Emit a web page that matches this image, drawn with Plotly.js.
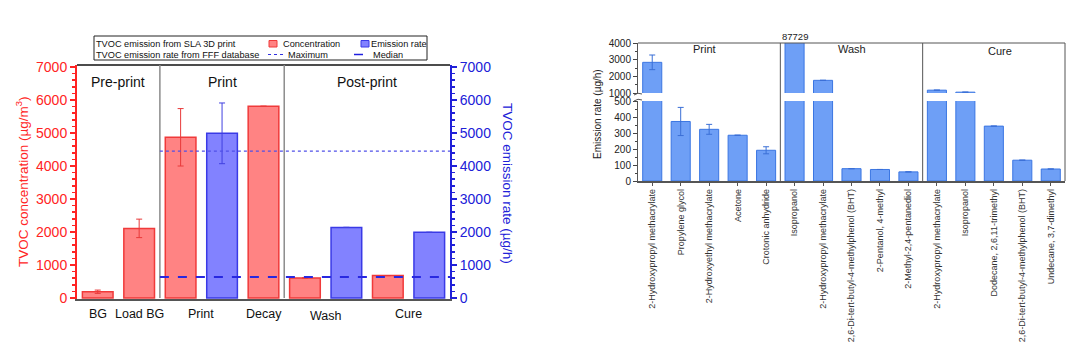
<!DOCTYPE html>
<html><head><meta charset="utf-8">
<script src="https://cdn.plot.ly/plotly-3.0.1.min.js"></script>
<style>html,body{margin:0;padding:0;background:#fff}#chart{width:1090px;height:354px}</style>
</head><body><div id="chart"></div>
<script>
// ---------- Left chart data ----------
const stages = ["BG", "Load BG", "Print", "Decay", "Wash", "Cure"];
const concStages = ["BG", "Load BG", "Print", "Decay", "Wash", "Cure"];
const concentration = [190, 2110, 4870, 5810, 610, 680];
const concentrationErr = [50, 280, 870, 0, 0, 0];
const rateStages = ["Print", "Wash", "Cure"];
const emissionRate = [4990, 2140, 1990];
const emissionRateErr = [920, 0, 0];
const fffMaximum = 4450;
const fffMedian = 640;
const phases = ["Pre-print", "Print", "Post-print"];
const stagePhase = ["Pre-print", "Pre-print", "Print", "Print", "Post-print", "Post-print"];
const leftTicks = [0, 1000, 2000, 3000, 4000, 5000, 6000, 7000];

// ---------- Right chart data ----------
const compounds = [
  "2-Hydroxypropyl methacrylate", "Propylene glycol", "2-Hydroxyethyl methacrylate", "Acetone", "Crotonic anhydride",
  "Isopropanol", "2-Hydroxypropyl methacrylate", "2,6-Di-tert-butyl-4-methylphenol (BHT)", "2-Pentanol, 4-methyl", "2-Methyl-2,4-pentanediol",
  "2-Hydroxypropyl methacrylate", "Isopropanol", "Dodecane, 2,6,11-trimethyl", "2,6-Di-tert-butyl-4-methylphenol (BHT)", "Undecane, 3,7-dimethyl"
];
const compoundPhase = ["Print","Print","Print","Print","Print","Wash","Wash","Wash","Wash","Wash","Cure","Cure","Cure","Cure","Cure"];
const compoundRate = [2840, 372, 323, 286, 192, 87729, 1760, 77, 72, 57, 1170, 1050, 343, 130, 75];
const compoundErr = [440, 88, 31, 0, 22, 0, 0, 0, 0, 0, 0, 0, 0, 0, 0];
const phaseNames = ["Print", "Wash", "Cure"];

// ---------- helpers ----------
const W = 1090, H = 354;
const px = p => p / W;
const py = p => 1 - p / H;
const FONT = "Liberation Sans, Arial, sans-serif";
const RED = "#ff2424", BLUE = "#2020d8";

// slots for left chart
const slots = [];
stages.forEach(s => {
  if (concStages.includes(s)) slots.push(s + " (C)");
  if (rateStages.includes(s)) slots.push(s + " (R)");
});
const slotIdx = name => slots.indexOf(name);

const traces = [
  {
    type: "bar", x: concStages.map(s => s + " (C)"), y: concentration, xaxis: "x", yaxis: "y",
    width: 0.74, marker: {color: "#ff8383", line: {color: "#f03a3a", width: 1.5}},
    error_y: {type: "data", array: concentrationErr, visible: true, color: "#e83a3a", thickness: 1, width: 3},
    name: "Concentration"
  },
  {
    type: "bar", x: rateStages.map(s => s + " (R)"), y: emissionRate, xaxis: "x", yaxis: "y2",
    width: 0.74, marker: {color: "#8282ff", line: {color: "#3a3ae6", width: 1.5}},
    error_y: {type: "data", array: emissionRateErr, visible: true, color: "#4040e0", thickness: 1, width: 3},
    name: "Emission rate"
  }
];

const idx = compounds.map((c, i) => i);
const rightBar = (ya) => ({
  type: "bar", x: idx, y: compoundRate, xaxis: "x2", yaxis: ya, width: 0.67,
  marker: {color: "#6e9ff6", line: {color: "#3b76e2", width: 1}},
  error_y: {type: "data", array: compoundErr, visible: true, color: "#3b6fd6", thickness: 1, width: 3},
  cliponaxis: true
});
traces.push(rightBar("y3"));
traces.push(rightBar("y4"));

const shapes = [];
const annotations = [];
const ann = (o) => annotations.push(Object.assign({showarrow: false, xanchor: "center", yanchor: "middle"}, o));

// left frame top line
shapes.push({type: "line", xref: "paper", yref: "paper", x0: px(77), x1: px(450), y0: py(65), y1: py(65), line: {color: "#111", width: 1.5}});
// phase separators & labels (left)
phases.forEach((ph, k) => {
  const stIdx = stages.map((s, i) => i).filter(i => stagePhase[i] === ph);
  const slotList = [];
  stIdx.forEach(i => {
    const s = stages[i];
    if (concStages.includes(s)) slotList.push(slotIdx(s + " (C)"));
    if (rateStages.includes(s)) slotList.push(slotIdx(s + " (R)"));
  });
  const lo = Math.min(...slotList), hi = Math.max(...slotList);
  ann({xref: "x", yref: "paper", x: (lo + hi) / 2, y: py(82), text: ph, font: {size: 14, color: "#111", family: FONT}});
  if (k < phases.length - 1) {
    shapes.push({type: "line", xref: "x", yref: "paper", x0: hi + 0.5, x1: hi + 0.5, y0: py(298), y1: py(65), line: {color: "#8c8c8c", width: 1.5}});
  }
});
// stage labels below
stages.forEach((s, i) => {
  const l = [];
  if (concStages.includes(s)) l.push(slotIdx(s + " (C)"));
  if (rateStages.includes(s)) l.push(slotIdx(s + " (R)"));
  const c = l.reduce((a, b) => a + b, 0) / l.length;
  ann({xref: "x", yref: "paper", x: c, y: py(s === "Wash" ? 316 : 314), text: s, font: {size: 12.5, color: "#111", family: FONT}});
});
// FFF lines
const printStart = slotIdx("Print (C)") - 0.5;
shapes.push({type: "line", xref: "x", yref: "y2", x0: printStart, x1: slots.length - 0.5, y0: fffMaximum, y1: fffMaximum, line: {color: "#5050e8", width: 1.2, dash: "dot"}});
shapes.push({type: "line", xref: "x", yref: "y2", x0: printStart, x1: slots.length - 0.5, y0: fffMedian, y1: fffMedian, line: {color: "#2828e0", width: 2, dash: "dash"}});

// axis titles (left)
ann({xref: "paper", yref: "paper", x: px(22), y: py(182), text: "TVOC concentration (µg/m<sup>3</sup>)", textangle: -90,
  font: {size: 13.5, color: RED, family: FONT}});
ann({xref: "paper", yref: "paper", x: px(507), y: py(183), text: "TVOC emission rate (µg/h)", textangle: 90,
  font: {size: 13.5, color: BLUE, family: FONT}});

// legend box (left)
shapes.push({type: "rect", xref: "paper", yref: "paper", x0: px(94), x1: px(427), y0: py(60), y1: py(36), line: {color: "#222", width: 1}, fillcolor: "#fff"});
const legTxt = (x, y, t) => ann({xref: "paper", yref: "paper", x: px(x), y: py(y), text: t,
  xanchor: "left", font: {size: 9.2, color: "#111", family: FONT}});
legTxt(94, 43.5, "TVOC emission from SLA 3D print");
legTxt(281, 43.5, "Concentration");
legTxt(369, 43.5, "Emission rate");
legTxt(94, 54.5, "TVOC emission rate from FFF database");
legTxt(286, 54.5, "Maximum");
legTxt(371, 54.5, "Median");
shapes.push({type: "rect", xref: "paper", yref: "paper", x0: px(269), x1: px(277), y0: py(47), y1: py(40.5), fillcolor: "#ff8383", line: {color: "#f03a3a", width: 1}});
shapes.push({type: "rect", xref: "paper", yref: "paper", x0: px(361), x1: px(369), y0: py(47), y1: py(40.5), fillcolor: "#8282ff", line: {color: "#3a3ae6", width: 1}});
shapes.push({type: "line", xref: "paper", yref: "paper", x0: px(268), x1: px(283), y0: py(54.5), y1: py(54.5), line: {color: "#3030e0", width: 1.2, dash: "dot"}});
shapes.push({type: "line", xref: "paper", yref: "paper", x0: px(354), x1: px(367), y0: py(54.5), y1: py(54.5), line: {color: "#2020e0", width: 1.5, dash: "dash"}});

// ---------- right chart decorations ----------
shapes.push({type: "line", xref: "paper", yref: "paper", x0: px(638), x1: px(1065), y0: py(43), y1: py(43), line: {color: "#555", width: 1}});
shapes.push({type: "line", xref: "paper", yref: "paper", x0: px(1065), x1: px(1065), y0: py(43), y1: py(181), line: {color: "#555", width: 1}});
phaseNames.forEach((ph, k) => {
  const l = idx.filter(i => compoundPhase[i] === ph);
  const lo = Math.min(...l), hi = Math.max(...l);
  ann({xref: "x2", yref: "paper", x: (lo + hi) / 2 + (ph === "Print" ? -0.15 : (ph === "Cure" ? 0.2 : 0)), y: py(ph === "Cure" ? 51 : 49.5), text: ph,
    font: {size: 11, color: "#222", family: FONT}});
  if (k < phaseNames.length - 1) {
    shapes.push({type: "line", xref: "x2", yref: "paper", x0: hi + 0.5, x1: hi + 0.5, y0: py(181), y1: py(43), line: {color: "#555", width: 1}});
  }
});
// off-scale value label
const maxI = compoundRate.indexOf(Math.max(...compoundRate));
ann({xref: "x2", yref: "paper", x: maxI, y: py(37), text: String(compoundRate[maxI]), font: {size: 9.5, color: "#222", family: FONT}});
// axis break marks
shapes.push({type: "path", xref: "paper", yref: "paper",
  path: `M ${px(634)} ${py(95)} Q ${px(638)} ${py(92)} ${px(642)} ${py(94)}`, line: {color: "#555", width: 1}});
shapes.push({type: "path", xref: "paper", yref: "paper",
  path: `M ${px(634)} ${py(101)} Q ${px(638)} ${py(98)} ${px(642)} ${py(100)}`, line: {color: "#555", width: 1}});
ann({xref: "paper", yref: "paper", x: px(597), y: py(114), text: "Emission rate (µg/h)", textangle: -90,
  font: {size: 10, color: "#222", family: FONT}});

const yLeftCommon = {
  range: [-30, 7061], tickvals: leftTicks, ticks: "outside", ticklen: 5, tickwidth: 1.5,
  showline: true, linewidth: 2, showgrid: false, zeroline: false, anchor: "x",
  domain: [py(299), py(65)]
};

const layout = {
  width: W, height: H, margin: {l: 0, r: 0, t: 0, b: 0},
  paper_bgcolor: "#fff", plot_bgcolor: "rgba(0,0,0,0)", showlegend: false, barmode: "overlay",
  font: {family: FONT},
  xaxis: {domain: [px(77), px(450)], type: "category", categoryorder: "array", categoryarray: slots,
    range: [-0.5, slots.length - 0.5], showticklabels: false, ticks: "", showline: true, linecolor: "#555", linewidth: 2,
    anchor: "y", showgrid: false, zeroline: false},
  yaxis: Object.assign({}, yLeftCommon, {tickcolor: RED, linecolor: RED, tickfont: {color: RED, size: 14, family: FONT},
    minor: {dtick: 200, tick0: 0, ticks: "outside", ticklen: 3, tickcolor: RED}}),
  yaxis2: Object.assign({}, yLeftCommon, {overlaying: "y", side: "right", tickcolor: BLUE, linecolor: BLUE,
    tickfont: {color: BLUE, size: 14, family: FONT},
    minor: {dtick: 200, tick0: 0, ticks: "outside", ticklen: 3, tickcolor: BLUE}}),
  xaxis2: {domain: [px(638), px(1065)], anchor: "y3", range: [-0.5, compounds.length - 0.5],
    tickvals: idx, ticktext: compounds, tickangle: -90, tickfont: {size: 9, color: "#333", family: FONT},
    ticks: "outside", ticklen: 3, tickcolor: "#555", showline: true, linecolor: "#555", linewidth: 1.5,
    showgrid: false, zeroline: false},
  yaxis3: {domain: [py(181), py(101)], anchor: "x2", range: [0, 500], dtick: 100, tick0: 0,
    ticks: "outside", ticklen: 4, tickcolor: "#444", showline: true, linecolor: "#555", linewidth: 1,
    tickfont: {size: 10, color: "#222", family: FONT}, showgrid: false, zeroline: false,
    minor: {dtick: 50, ticks: "outside", ticklen: 2, tickcolor: "#444"}},
  yaxis4: {domain: [py(93), py(43)], anchor: "x2", range: [1000, 4000], dtick: 1000, tick0: 0,
    ticks: "outside", ticklen: 4, tickcolor: "#444", showline: true, linecolor: "#555", linewidth: 1,
    tickfont: {size: 10, color: "#222", family: FONT}, showgrid: false, zeroline: false,
    minor: {dtick: 500, ticks: "outside", ticklen: 2, tickcolor: "#444"}},
  shapes: shapes,
  annotations: annotations
};

Plotly.newPlot("chart", traces, layout, {staticPlot: true, displayModeBar: false});
</script>
</body></html>
